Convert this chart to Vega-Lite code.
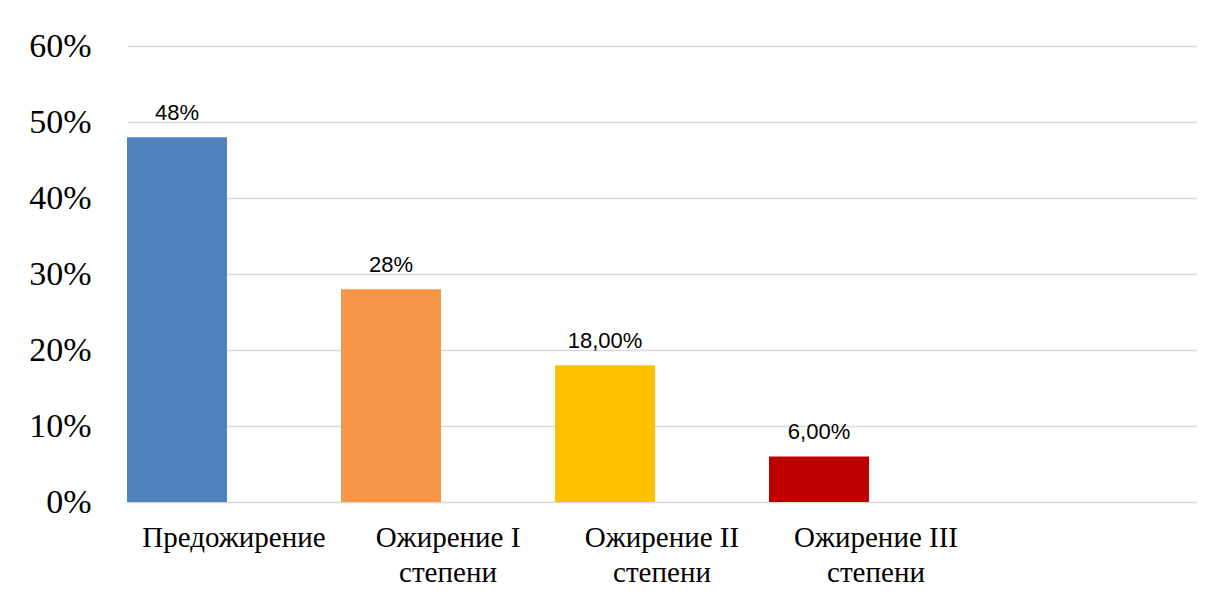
{
  "$schema": "https://vega.github.io/schema/vega-lite/v6.json",
  "width": 1070,
  "height": 456,
  "autosize": {"type": "none"},
  "padding": {"left": 127, "top": 46, "right": 18, "bottom": 94},
  "background": "white",
  "config": {"view": {"stroke": null}},
  "data": {
    "values": [
      {"category": "Предожирение", "series": "a", "value": 0.48, "label": "48%", "color": "c1"},
      {"category": "Ожирение I степени", "series": "a", "value": 0.28, "label": "28%", "color": "c2"},
      {"category": "Ожирение II степени", "series": "a", "value": 0.18, "label": "18,00%", "color": "c3"},
      {"category": "Ожирение III степени", "series": "a", "value": 0.06, "label": "6,00%", "color": "c4"}
    ]
  },
  "encoding": {
    "x": {
      "field": "category",
      "type": "nominal",
      "sort": null,
      "scale": {
        "domain": ["Предожирение", "Ожирение I степени", "Ожирение II степени", "Ожирение III степени", "_"],
        "paddingInner": 0,
        "paddingOuter": 0
      },
      "axis": {
        "title": null,
        "domain": false,
        "ticks": false,
        "labelAngle": 0,
        "labelFont": "Liberation Serif",
        "labelFontSize": 29,
        "labelColor": "#000000",
        "labelPadding": 21,
        "labelLineHeight": 35,
        "labelBaseline": "top",
        "labelLimit": 0,
        "labelOverlap": false,
        "labelExpr": "datum.label == '_' ? '' : (indexof(datum.label, ' степени') > 0 ? [replace(datum.label, ' степени', ''), 'степени'] : datum.label)"
      }
    },
    "xOffset": {
      "field": "series",
      "type": "nominal",
      "scale": {"domain": ["a", "b"], "paddingInner": 0.123, "paddingOuter": 0}
    },
    "y": {
      "field": "value",
      "type": "quantitative",
      "scale": {"domain": [0, 0.6]},
      "axis": {
        "title": null,
        "format": ".0%",
        "values": [0, 0.1, 0.2, 0.3, 0.4, 0.5, 0.6],
        "labelOverlap": false,
        "domain": false,
        "ticks": false,
        "labelFont": "Liberation Serif",
        "labelFontSize": 34,
        "labelColor": "#000000",
        "labelPadding": 36,
        "gridColor": "#D9D9D9",
        "gridWidth": 1.5
      }
    }
  },
  "layer": [
    {
      "mark": {"type": "bar"},
      "encoding": {
        "color": {
          "field": "color",
          "type": "nominal",
          "scale": {"domain": ["c1", "c2", "c3", "c4"], "range": ["#4F81BD", "#F79646", "#FFC000", "#C00000"]},
          "legend": null
        }
      }
    },
    {
      "mark": {"type": "text", "font": "Liberation Sans", "fontSize": 22, "color": "#000000", "baseline": "alphabetic", "dy": -17},
      "encoding": {"text": {"field": "label"}}
    }
  ]
}
